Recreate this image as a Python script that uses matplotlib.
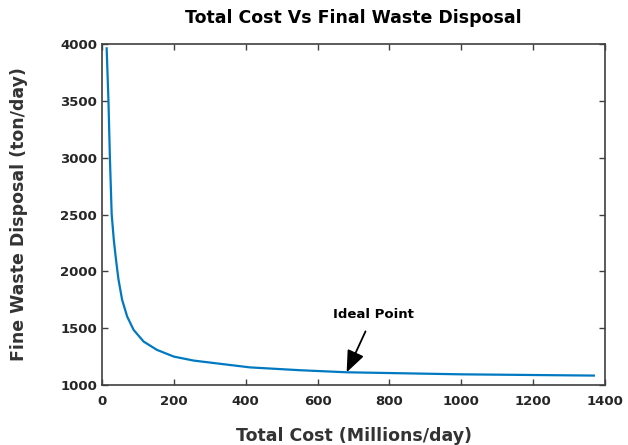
import matplotlib
matplotlib.use("Agg")
import matplotlib.pyplot as plt

# data
cost = [13, 18, 22, 27, 33, 38, 43, 46, 56, 70, 88, 116, 153, 200, 255, 302, 412, 552, 681, 1000, 1369]
waste = [3962, 3500, 3000, 2500, 2273, 2130, 2000, 1927, 1750, 1603, 1485, 1382, 1309, 1250, 1215, 1197,
         1155, 1130, 1112, 1094, 1083]

ideal_x = 681
ideal_y = 1112

plt.rcParams['font.family'] = ['DejaVu Sans']
plt.rcParams['font.weight'] = 'bold'

fig = plt.figure(figsize=(6.28, 4.45), dpi=100)
ax = fig.add_axes([0.1624, 0.1348, 0.801, 0.7663])

ax.plot(cost, waste, color='#0079C1', lw=1.6)

ax.set_xlim(0, 1400)
ax.set_ylim(1000, 4000)
ax.set_xticks(range(0, 1401, 200))
ax.set_yticks(range(1000, 4001, 500))

ax.set_title('Total Cost Vs Final Waste Disposal', fontsize=12.5, fontweight='bold', color='black', pad=15)
ax.set_xlabel('Total Cost (Millions/day)', fontsize=12.5, fontweight='bold', color='#333333', labelpad=14)
ax.set_ylabel('Fine Waste Disposal (ton/day)', fontsize=12.5, fontweight='bold', color='#333333', labelpad=23)

ax.tick_params(direction='in', top=True, right=True, length=4, width=1, colors='#404040',
               labelsize=9.5, labelcolor='#262626')
ax.tick_params(axis='x', pad=7)
for s in ax.spines.values():
    s.set_color('#404040')
    s.set_linewidth(1.2)
for lab in ax.get_xticklabels() + ax.get_yticklabels():
    lab.set_fontweight('bold')

ax.annotate('Ideal Point', xy=(ideal_x, ideal_y), xytext=(755, 1620),
            ha='center', va='center', fontsize=9.5, fontweight='bold',
            arrowprops=dict(arrowstyle='-|>,head_length=1.1,head_width=0.45', color='black', lw=1.3,
                            mutation_scale=12, shrinkA=6, shrinkB=0))

fig.savefig('out.png', dpi=100)
